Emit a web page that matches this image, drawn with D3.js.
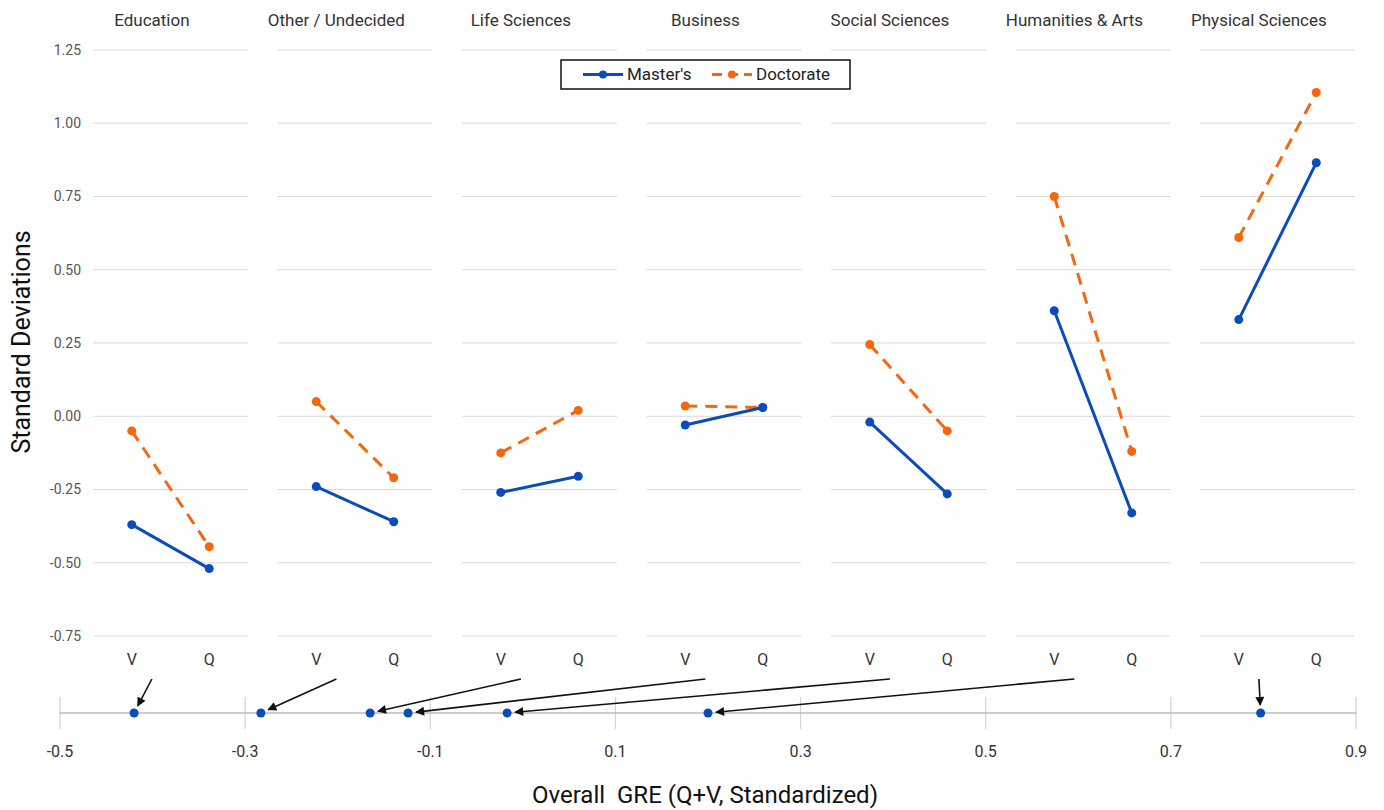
<!DOCTYPE html>
<html>
<head>
<meta charset="utf-8">
<script src="https://cdn.jsdelivr.net/npm/d3@7"></script>
<style>
  body { margin: 0; background: #fff; }
  text { font-family: Roboto, "Open Sans", sans-serif; }
</style>
</head>
<body>
<svg id="chart" width="1384" height="810"></svg>
<script>
// ## DATA ##
const panels = ["Education", "Other / Undecided", "Life Sciences", "Business", "Social Sciences", "Humanities & Arts", "Physical Sciences"]
const subtests = ["V", "Q"]
const mastersV = [-0.37, -0.24, -0.26, -0.03, -0.02, 0.36, 0.33]
const mastersQ = [-0.52, -0.36, -0.205, 0.03, -0.265, -0.33, 0.865]
const doctorateV = [-0.05, 0.05, -0.125, 0.035, 0.245, 0.75, 0.61]
const doctorateQ = [-0.445, -0.21, 0.02, 0.03, -0.05, -0.12, 1.105]
const overallGre = [-0.42, -0.283, -0.165, -0.124, -0.017, 0.2, 0.797]
const yTicks = [-0.75, -0.5, -0.25, 0, 0.25, 0.5, 0.75, 1, 1.25]
const xTicks = [-0.5, -0.3, -0.1, 0.1, 0.3, 0.5, 0.7, 0.9]
const seriesNames = ["Master's", "Doctorate"]

const blue = "#0b4cbd"
const orange = "#f4670f"

// plain hyphen for negatives, like the original
const fmt = f => d => d3.format(f)(d).replace("\u2212", "-")

const svg = d3.select("#chart")

// arrow marker
svg.append("defs").append("marker")
  .attr("id", "arrow")
  .attr("viewBox", "0 0 10 10")
  .attr("refX", 9).attr("refY", 5)
  .attr("markerWidth", 12).attr("markerHeight", 9)
  .attr("markerUnits", "userSpaceOnUse")
  .attr("orient", "auto")
  .append("path").attr("d", "M0,0 L10,5 L0,10 Z").attr("fill", "#111")

// ## SCALES ##
const panelX = d3.scaleBand().domain(panels).range([93, 1355]).paddingInner(0.16)
const bw = panelX.bandwidth()
const subX = d3.scalePoint().domain(subtests).range([0, bw]).padding(0.5)
const y = d3.scaleLinear().domain([-0.75, 1.25]).range([636, 50])
const greX = d3.scaleLinear().domain([-0.5, 0.9]).range([60, 1356])

// y tick labels (first panel only)
svg.append("g").selectAll("text")
  .data(yTicks).enter().append("text")
  .attr("x", 81).attr("y", d => y(d)).attr("dy", "0.35em")
  .attr("text-anchor", "end")
  .attr("font-size", 14).attr("fill", "#555")
  .text(fmt(".2f"))

svg.append("text")
  .attr("transform", "translate(30,342) rotate(-90)")
  .attr("text-anchor", "middle")
  .attr("font-size", 25).attr("fill", "#111")
  .text("Standard Deviations")

const series = [
  { name: seriesNames[0], color: blue, dash: null, values: panels.map((p, i) => [mastersV[i], mastersQ[i]]) },
  { name: seriesNames[1], color: orange, dash: "12,8", values: panels.map((p, i) => [doctorateV[i], doctorateQ[i]]) }
]

panels.forEach((p, i) => {
  const g = svg.append("g").attr("transform", `translate(${panelX(p)},0)`)

  g.selectAll("line.grid")
    .data(yTicks).enter().append("line")
    .attr("class", "grid")
    .attr("x1", 0).attr("x2", bw)
    .attr("y1", d => y(d)).attr("y2", d => y(d))
    .attr("stroke", "#d9d9d9").attr("stroke-width", 1.2)

  g.append("text")
    .attr("x", bw * 0.38).attr("y", 26)
    .attr("text-anchor", "middle")
    .attr("font-size", 17).attr("fill", "#333")
    .text(p)

  g.selectAll("text.sub")
    .data(subtests).enter().append("text")
    .attr("class", "sub")
    .attr("x", d => subX(d)).attr("y", 665)
    .attr("text-anchor", "middle")
    .attr("font-size", 16).attr("fill", "#333")
    .text(d => d)

  // doctorate first so master's sits on top
  series.slice().reverse().forEach(s => {
    const pts = subtests.map((t, j) => [subX(t), y(s.values[i][j])])
    g.append("path")
      .attr("d", d3.line()(pts))
      .attr("fill", "none")
      .attr("stroke", s.color).attr("stroke-width", 3)
      .attr("stroke-dasharray", s.dash)
    g.selectAll(null).data(pts).enter().append("circle")
      .attr("cx", d => d[0]).attr("cy", d => d[1]).attr("r", 4.5)
      .attr("fill", s.color)
  })
})

// ## LEGEND ##
const legend = svg.append("g").attr("transform", "translate(561,60)")
legend.append("rect")
  .attr("width", 289).attr("height", 29)
  .attr("fill", "#fff").attr("stroke", "#111").attr("stroke-width", 1.5)
const legendX = [22, 151]
series.forEach((s, k) => {
  const lg = legend.append("g").attr("transform", `translate(${legendX[k]},14.5)`)
  lg.append("line").attr("x1", 0).attr("x2", 40)
    .attr("stroke", s.color).attr("stroke-width", 3)
    .attr("stroke-dasharray", s.dash ? "10,6" : null)
  lg.append("circle").attr("cx", 20).attr("r", 4).attr("fill", s.color)
  lg.append("text").attr("x", 44).attr("dy", "0.35em")
    .attr("font-size", 17).attr("fill", "#222")
    .text(s.name)
})

// ## BOTTOM AXIS: overall GRE ##
const axisY = 713
const bottom = svg.append("g")
bottom.selectAll("line.tick")
  .data(xTicks).enter().append("line")
  .attr("x1", d => greX(d)).attr("x2", d => greX(d))
  .attr("y1", axisY - 16).attr("y2", axisY + 16)
  .attr("stroke", "#d4d4d4").attr("stroke-width", 1.2)
bottom.append("line")
  .attr("x1", greX(-0.5)).attr("x2", greX(0.9))
  .attr("y1", axisY).attr("y2", axisY)
  .attr("stroke", "#bbb").attr("stroke-width", 1.5)
bottom.selectAll("text.tick")
  .data(xTicks).enter().append("text")
  .attr("x", d => greX(d)).attr("y", 757)
  .attr("text-anchor", "middle")
  .attr("font-size", 16).attr("fill", "#333")
  .text(fmt(".1f"))

svg.append("text")
  .attr("x", 705).attr("y", 803)
  .attr("text-anchor", "middle")
  .attr("font-size", 24).attr("fill", "#111")
  .attr("xml:space", "preserve")
  .text("Overall  GRE (Q+V, Standardized)")

// arrows from each panel to its overall GRE point
panels.forEach((p, i) => {
  const x0 = panelX(p) + bw * 0.38, y0 = 679
  const x1 = greX(overallGre[i]), y1 = axisY
  const len = Math.hypot(x1 - x0, y1 - y0)
  const k = (len - 8) / len
  svg.append("line")
    .attr("x1", x0).attr("y1", y0)
    .attr("x2", x0 + (x1 - x0) * k).attr("y2", y0 + (y1 - y0) * k)
    .attr("stroke", "#111").attr("stroke-width", 1.6)
    .attr("marker-end", "url(#arrow)")
})

bottom.selectAll("circle")
  .data(overallGre).enter().append("circle")
  .attr("cx", d => greX(d)).attr("cy", axisY).attr("r", 4.5)
  .attr("fill", blue)
</script>
</body>
</html>
